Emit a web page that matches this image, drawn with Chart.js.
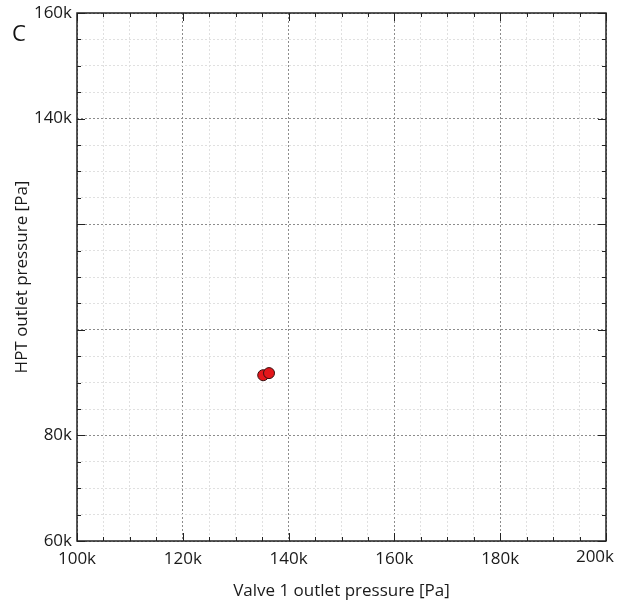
<html>
<head>
<script src="https://cdn.jsdelivr.net/npm/chart.js@4.4.0/dist/chart.umd.min.js"></script>
<style>
  body { margin: 0; background: #fff; }
</style>
</head>
<body>
<canvas id="chart" width="617" height="601"></canvas>
<script>
// measured points
var valve1Pressure = [135200, 136300];
var hptPressure = [91400, 91800];

var xLabels = [100000, 120000, 140000, 160000, 180000];
var xLastLabel = 200000;
var yLabels = [60000, 80000, 140000, 160000];

var FONT = "'Open Sans', sans-serif";

function kLabel(v) { return (v / 1000) + 'k'; }

// inside tick marks, frame, last x label pulled inside canvas, panel letter
var decor = {
  id: 'decor',
  afterDraw: function(chart) {
    var ctx = chart.ctx, a = chart.chartArea;
    var xs = chart.scales.x, ys = chart.scales.y;
    ctx.save();
    ctx.strokeStyle = '#222';
    ctx.lineWidth = 1;
    ctx.beginPath();
    xs.ticks.forEach(function(t) {
      var px = Math.round(xs.getPixelForValue(t.value)) + 0.5;
      var len = t.value % 20000 === 0 ? 8 : 4;
      ctx.moveTo(px, a.bottom); ctx.lineTo(px, a.bottom - len);
      ctx.moveTo(px, a.top); ctx.lineTo(px, a.top + len);
    });
    ys.ticks.forEach(function(t) {
      var py = Math.round(ys.getPixelForValue(t.value)) + 0.5;
      var len = t.value % 20000 === 0 ? 8 : 4;
      ctx.moveTo(a.left, py); ctx.lineTo(a.left + len, py);
      ctx.moveTo(a.right, py); ctx.lineTo(a.right - len, py);
    });
    ctx.stroke();
    ctx.lineWidth = 1.5;
    ctx.strokeRect(a.left, a.top, a.right - a.left, a.bottom - a.top);

    ctx.fillStyle = '#1a1a1a';
    ctx.font = '17px ' + FONT;
    ctx.textBaseline = 'top';
    ctx.textAlign = 'right';
    ctx.fillText(kLabel(xLastLabel), chart.width - 3, a.bottom + 8);

    ctx.fillStyle = '#111';
    ctx.font = '22px ' + FONT;
    ctx.textBaseline = 'middle';
    ctx.textAlign = 'center';
    ctx.fillText('C', 19, 35);
    ctx.restore();
  }
};

function gridColor(c) {
  return c.tick && c.tick.value % 20000 === 0 ? '#8c8c8c' : '#e0e0e0';
}

new Chart(document.getElementById('chart'), {
  type: 'scatter',
  data: {
    datasets: [{
      data: valve1Pressure.map(function(x, i) { return { x: x, y: hptPressure[i] }; }),
      backgroundColor: '#e3161b',
      borderColor: '#3a1010',
      borderWidth: 1,
      pointRadius: 5.5,
      pointHoverRadius: 5.5
    }]
  },
  plugins: [decor],
  options: {
    responsive: false,
    animation: false,
    layout: { padding: { top: 13, right: 11, left: 0, bottom: 0 } },
    plugins: { legend: { display: false }, tooltip: { enabled: false } },
    scales: {
      x: {
        type: 'linear',
        min: 100000, max: 200000,
        afterFit: function(s) { s.height = 60; s.paddingLeft = 0; s.paddingRight = 0; },
        ticks: {
          stepSize: 5000, autoSkip: false, maxRotation: 0, padding: 8,
          color: '#1a1a1a', font: { family: FONT, size: 17 },
          callback: function(v) { return xLabels.indexOf(v) >= 0 ? kLabel(v) : ''; }
        },
        grid: { color: gridColor, drawTicks: false, lineWidth: 1 },
        border: { display: false, dash: [2, 2] },
        title: {
          display: true, text: 'Valve 1 outlet pressure [Pa]', color: '#1a1a1a',
          font: { family: FONT, size: 17 }, padding: { top: 4, bottom: 0 }
        }
      },
      y: {
        type: 'linear',
        min: 60000, max: 160000,
        afterFit: function(s) { s.width = 77; s.paddingTop = 0; s.paddingBottom = 0; },
        ticks: {
          stepSize: 5000, autoSkip: false, padding: 5,
          color: '#1a1a1a', font: { family: FONT, size: 17 },
          callback: function(v) { return yLabels.indexOf(v) >= 0 ? kLabel(v) : ''; }
        },
        grid: { color: gridColor, drawTicks: false, lineWidth: 1 },
        border: { display: false, dash: [2, 2] },
        title: {
          display: true, text: 'HPT outlet pressure [Pa]', color: '#1a1a1a',
          font: { family: FONT, size: 17 }, padding: { top: 12, bottom: 0 }
        }
      }
    }
  }
});
</script>
</body>
</html>
